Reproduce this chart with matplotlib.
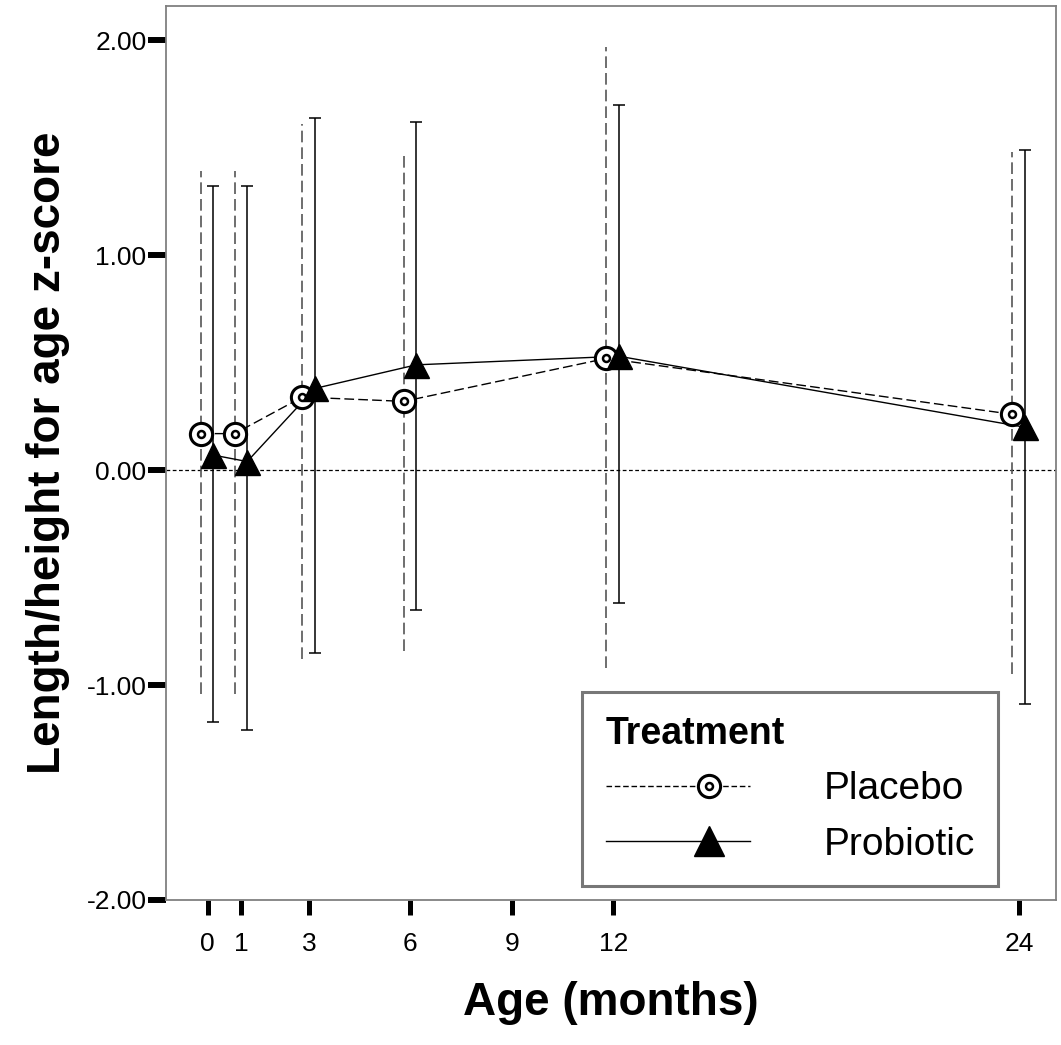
import numpy as np
import matplotlib.pyplot as plt
from matplotlib.lines import Line2D
from matplotlib.legend_handler import HandlerTuple, HandlerLine2D

plt.rcParams['font.family'] = ['Liberation Sans', 'DejaVu Sans']

months = [0, 1, 3, 6, 12, 24]
tick_months = [0, 1, 3, 6, 9, 12, 24]

placebo_mean = [0.17, 0.17, 0.34, 0.32, 0.52, 0.26]
placebo_hi = [1.39, 1.39, 1.61, 1.48, 1.97, 1.48]
placebo_lo = [-1.04, -1.04, -0.88, -0.84, -0.92, -0.95]

probiotic_mean = [0.07, 0.04, 0.38, 0.49, 0.53, 0.20]
probiotic_hi = [1.32, 1.32, 1.64, 1.62, 1.70, 1.49]
probiotic_lo = [-1.17, -1.21, -0.85, -0.65, -0.62, -1.09]


class RightMarkerHandler(HandlerLine2D):
    # legend marker sits near the right end of the line, like the SPSS legend
    def create_artists(self, legend, orig_handle, xdescent, ydescent, width, height,
                       fontsize, trans):
        xdata = np.array([-xdescent, -xdescent + 0.72 * width, -xdescent + width])
        ydata = np.full_like(xdata, (height - ydescent) / 2)
        line = Line2D(xdata, ydata)
        self.update_prop(line, orig_handle, legend)
        line.set_markevery([1])
        line.set_transform(trans)
        return [line]


x = np.array(months, dtype=float)
xp = x - 0.2
xb = x + 0.17

fig = plt.figure(figsize=(10.61, 10.45), dpi=100)
ax = fig.add_axes([0.1565, 0.1388, 0.8388, 0.8555])

ax.axhline(0, color='black', lw=0.9, ls=(0, (3, 2)), zorder=1)

# placebo error bars (dashed, no caps)
pm = np.array(placebo_mean)
eb = ax.errorbar(xp, pm, yerr=[pm - np.array(placebo_lo), np.array(placebo_hi) - pm],
                 fmt='none', ecolor='#555555', elinewidth=1.2, capsize=0, zorder=2)
eb[2][0].set_linestyle((0, (7, 3)))

# probiotic error bars (solid with caps)
bm = np.array(probiotic_mean)
ax.errorbar(xb, bm, yerr=[bm - np.array(probiotic_lo), np.array(probiotic_hi) - bm],
            fmt='none', ecolor='black', elinewidth=1.1, capsize=4, capthick=1.1, zorder=2)

ax.plot(xp, placebo_mean, color='black', lw=1, ls=(0, (7, 3)), zorder=3)
ax.plot(xp, placebo_mean, ls='none', marker='o', ms=16, mfc='white',
        mec='black', mew=2.2, zorder=4)
ax.plot(xp, placebo_mean, ls='none', marker='o', ms=5, mfc='white',
        mec='black', mew=1.8, zorder=5)

ax.plot(xb, probiotic_mean, color='black', lw=1, zorder=3)
ax.plot(xb, probiotic_mean, ls='none', marker='^', ms=18, color='black', zorder=6)

ax.set_xlim(-1.23, 25.1)
ax.set_ylim(-2, 2.16)
ax.set_xticks(tick_months)
ax.set_xticklabels([str(t) for t in tick_months])
ax.set_yticks([-2, -1, 0, 1, 2])
ax.set_yticklabels(['%.2f' % v for v in [-2, -1, 0, 1, 2]])

ax.tick_params(axis='y', length=13, width=4.3, labelsize=19, pad=1)
ax.tick_params(axis='x', length=11, width=3.6, labelsize=19, pad=12)
for s in ax.spines.values():
    s.set_color('#808080')
    s.set_linewidth(1.3)

ax.set_xlabel('Age (months)', fontsize=33, fontweight='bold', labelpad=18)
ax.set_ylabel('Length/height for age z-score', fontsize=33, fontweight='bold', labelpad=12)

# legend handles
h_pl, = ax.plot([], [], color='black', lw=1, ls=(0, (4, 2)), marker='o', ms=16,
                mfc='white', mec='black', mew=2.2)
h_pl_in, = ax.plot([], [], ls='none', marker='o', ms=5, mfc='white', mec='black', mew=1.8)
h_pb, = ax.plot([], [], color='black', lw=1, marker='^', ms=22)

rh = RightMarkerHandler()
leg = ax.legend([(h_pl, h_pl_in), h_pb], ['Placebo', 'Probiotic'],
                handler_map={tuple: HandlerTuple(ndivide=1, pad=0), h_pl: rh,
                             h_pl_in: rh, h_pb: rh},
                title='Treatment', loc='lower right', bbox_to_anchor=(0.935, 0.0157),
                fontsize=28, title_fontproperties={'weight': 'bold', 'size': 27},
                frameon=True, fancybox=False, handlelength=3.7, borderpad=0.6,
                labelspacing=0.5, handletextpad=1.9, borderaxespad=0)
leg._legend_box.align = 'left'
leg.get_frame().set_edgecolor('#555555')
leg.get_frame().set_linewidth(2.2)

fig.savefig('out.png', dpi=100)
